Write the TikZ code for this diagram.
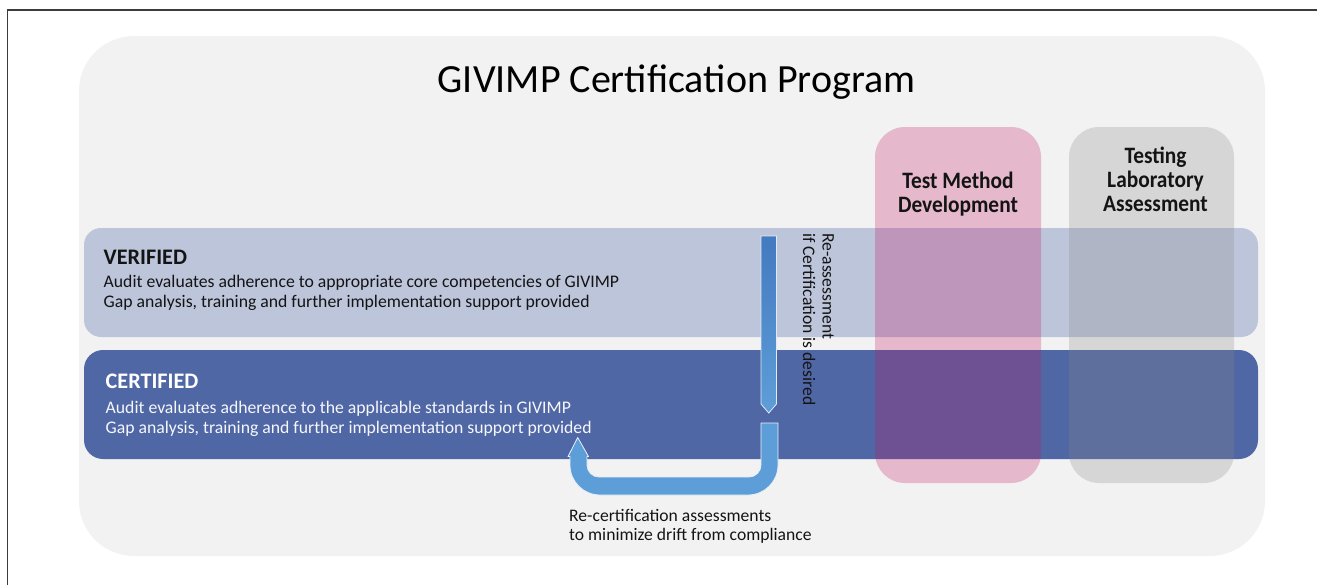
\documentclass[tikz,border=0pt]{standalone}
\usepackage{fontspec}
\setmainfont{Carlito}
\newfontfamily\boxsans[FakeStretch=0.91]{Carlito}
\usetikzlibrary{shadings}

\definecolor{panelbg}{RGB}{242,242,242}
\definecolor{verband}{RGB}{189,197,219}
\definecolor{certband}{RGB}{80,103,165}
\definecolor{tmdpink}{RGB}{196,18,96}
\definecolor{tlagray}{RGB}{137,137,137}
\definecolor{arrowdark}{RGB}{68,122,192}
\definecolor{arrowlight}{RGB}{94,158,216}
\definecolor{textdark}{RGB}{20,20,20}
\definecolor{framegray}{RGB}{60,60,60}

\tikzset{
  colbox/.style={fill opacity=0.26, draw=none},
  bandhead/.style={anchor=base west, inner sep=0pt, font=\fontsize{22.2}{26}\selectfont\bfseries},
  bandline/.style={anchor=base west, inner sep=0pt, font=\fontsize{17.7}{21}\selectfont},
  boxhead/.style={anchor=base, inner sep=0pt, font=\boxsans\fontsize{23.5}{26}\selectfont\bfseries, text=textdark},
  flowarrow/.style={draw=white!85!arrowlight, line width=0.8pt, line join=round},
  notetext/.style={inner sep=0pt, font=\fontsize{17.6}{19.5}\selectfont, text=textdark},
}

\begin{document}
\begin{tikzpicture}[x=1pt,y=-1pt]
  \useasboundingbox (0,0) rectangle (1317,584);

  % outer frame (top and left edges)
  \draw[framegray, line width=1.4pt] (7.5,610) -- (7.5,10) -- (1330,10);

  % program panel
  \fill[panelbg, rounded corners=55pt] (79,36) rectangle (1265,556);
  \node[anchor=base, inner sep=0pt, font=\fontsize{40}{46}\selectfont, text=black]
    (title) at (676.5,92.3) {GIVIMP Certification Program};

  % VERIFIED band
  \fill[verband, rounded corners=17pt] (84,228) rectangle (1258,337);
  \node[bandhead, text=textdark] (vhead) at (103.5,264) {VERIFIED};
  \node[bandline, text=textdark] (vl1) at (103.5,287)
    {Audit evaluates adherence to appropriate core competencies of GIVIMP};
  \node[bandline, text=textdark] (vl2) at (103.5,307.5)
    {Gap analysis, training and further implementation support provided};

  % CERTIFIED band
  \fill[certband, rounded corners=19pt] (84,350) rectangle (1258,459);
  \node[bandhead, text=white] (chead) at (105.5,388) {CERTIFIED};
  \node[bandline, text=white!95!certband] (cl1) at (105.5,413)
    {Audit evaluates adherence to the applicable standards in GIVIMP};
  \node[bandline, text=white!95!certband] (cl2) at (105.5,433)
    {Gap analysis, training and further implementation support provided};

  % overlaid columns
  \fill[tmdpink, colbox, rounded corners=30pt] (875,127) rectangle (1041,483);
  \fill[tlagray, colbox, rounded corners=30pt] (1069,127) rectangle (1234,483);
  \node[boxhead] (tm1) at (958,188) {Test Method};
  \node[boxhead] (tm2) at (958,212) {Development};
  \node[boxhead] (tl1) at (1155.5,163.5) {Testing};
  \node[boxhead] (tl2) at (1155.5,187.5) {Laboratory};
  \node[boxhead] (tl3) at (1155.5,211.5) {Assessment};

  % downward arrow: verified -> certified
  \shade[top color=arrowdark, bottom color=arrowlight, draw=white!80!arrowlight, line width=0.8pt]
    (761,236) -- (776.5,236) -- (776.5,404) -- (768.75,413) -- (761,404) -- cycle;
  \node[notetext, rotate=-90, anchor=north west, align=left] (reassess) at (834,233)
    {Re-assessment\\if Certification is desired};

  % U-turn arrow: re-certification loop
  \fill[arrowlight, flowarrow]
    (761,423) -- (778,423) -- (778,465)
    arc[start angle=0, end angle=90, radius=30] -- (600,495)
    arc[start angle=90, end angle=180, radius=30] -- (570,456.5)
    -- (568,456.5) -- (577.7,437.5) -- (588.5,456.5) -- (587,456.5) -- (587,465)
    arc[start angle=180, end angle=90, radius=12] -- (749,477)
    arc[start angle=90, end angle=0, radius=12] -- cycle;
  \node[notetext, anchor=base west] (recert) at (569,521.5)
    {Re-certification assessments};
  \node[notetext, anchor=base west] (recert2) at (569,540.5)
    {to minimize drift from compliance};
\end{tikzpicture}
\end{document}
